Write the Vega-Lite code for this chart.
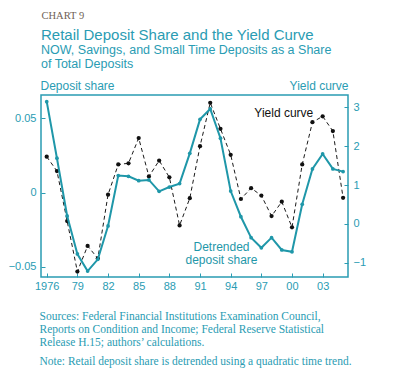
{
  "$schema": "https://vega.github.io/schema/vega-lite/v6.json",
  "autosize": "none",
  "width": 307,
  "height": 182,
  "padding": {"left": 41, "top": 95, "right": 45, "bottom": 103},
  "background": "white",
  "config": {
    "view": {"stroke": "#2a9cb3", "strokeWidth": 1.5},
    "axis": {"labelFont": "Liberation Sans", "labelFontSize": 11, "labelColor": "#2a9cb3", "tickColor": "#2a9cb3", "domain": false, "grid": false, "titleFont": "Liberation Sans", "titleFontWeight": "normal", "titleColor": "#2a9cb3"}
  },
  "title": {
    "text": "Retail Deposit Share and the Yield Curve",
    "subtitle": ["NOW, Savings, and Small Time Deposits as a Share", "of Total Deposits"],
    "anchor": "start",
    "frame": "group",
    "font": "Liberation Sans",
    "fontSize": 15,
    "fontWeight": "normal",
    "color": "#2a9cb3",
    "subtitleFont": "Liberation Sans",
    "subtitleFontSize": 12.5,
    "subtitleColor": "#2a9cb3",
    "subtitleLineHeight": 14,
    "subtitlePadding": 1,
    "offset": -60
  },
  "datasets": {
    "series": [
      {"year": 1976, "deposit": 0.0613, "yield": 1.73},
      {"year": 1977, "deposit": 0.0232, "yield": 1.36},
      {"year": 1978, "deposit": -0.0157, "yield": 0.07},
      {"year": 1979, "deposit": -0.0413, "yield": -1.23},
      {"year": 1980, "deposit": -0.0528, "yield": -0.57},
      {"year": 1981, "deposit": -0.0449, "yield": -0.89},
      {"year": 1982, "deposit": -0.0224, "yield": 0.75},
      {"year": 1983, "deposit": 0.0115, "yield": 1.53},
      {"year": 1984, "deposit": 0.0110, "yield": 1.56},
      {"year": 1985, "deposit": 0.0081, "yield": 2.21},
      {"year": 1986, "deposit": 0.0086, "yield": 1.22},
      {"year": 1987, "deposit": 0.0009, "yield": 1.63},
      {"year": 1988, "deposit": 0.0038, "yield": 1.20},
      {"year": 1989, "deposit": 0.0061, "yield": -0.04},
      {"year": 1990, "deposit": 0.0265, "yield": 0.66},
      {"year": 1991, "deposit": 0.0494, "yield": 2.00},
      {"year": 1992, "deposit": 0.0564, "yield": 3.12},
      {"year": 1993, "deposit": 0.0367, "yield": 2.45},
      {"year": 1994, "deposit": 0.0011, "yield": 1.78},
      {"year": 1995, "deposit": -0.0162, "yield": 0.64},
      {"year": 1996, "deposit": -0.0303, "yield": 0.92},
      {"year": 1997, "deposit": -0.0371, "yield": 0.73},
      {"year": 1998, "deposit": -0.0303, "yield": 0.20},
      {"year": 1999, "deposit": -0.0386, "yield": 0.57},
      {"year": 2000, "deposit": -0.0398, "yield": -0.09},
      {"year": 2001, "deposit": -0.0078, "yield": 1.53},
      {"year": 2002, "deposit": 0.0160, "yield": 2.62},
      {"year": 2003, "deposit": 0.0261, "yield": 2.77},
      {"year": 2004, "deposit": 0.0160, "yield": 2.39},
      {"year": 2005, "deposit": 0.0142, "yield": 0.67}
    ],
    "labels": [
      {"year": 1999.2, "value": 0.0539, "label": "Yield curve", "series": "yield"},
      {"year": 1993.1, "value": -0.0364, "label": "Detrended", "series": "deposit"},
      {"year": 1993.1, "value": -0.0454, "label": "deposit share", "series": "deposit"}
    ]
  },
  "resolve": {"scale": {"y": "independent"}, "axis": {"x": "independent", "y": "independent"}},
  "layer": [
    {
      "data": {"name": "series"},
      "mark": {"type": "line", "color": "#1a1a1a", "strokeWidth": 1, "strokeDash": [4, 3], "point": {"filled": true, "size": 18, "color": "#111111"}},
      "encoding": {
        "x": {"field": "year", "type": "quantitative", "scale": {"domain": [1975.44, 2005.48], "nice": false, "zero": false},
          "axis": {"orient": "top", "labels": false, "ticks": false, "title": "CHART 9", "titleFont": "Liberation Serif", "titleFontSize": 10.5, "titleColor": "#6f5f55", "titleAlign": "left", "titleBaseline": "alphabetic", "titleX": 0, "titleY": -76.5, "titleAnchor": "start"}},
        "y": {"field": "yield", "type": "quantitative", "scale": {"domain": [-1.37, 3.32], "nice": false, "zero": false},
          "axis": {"orient": "right", "values": [-1, 0, 1, 2, 3], "tickSize": -4, "labelPadding": 9, "title": "Yield curve", "titleAngle": 0, "titleAlign": "right", "titleBaseline": "alphabetic", "titleX": 0, "titleY": -6, "titleFontSize": 12}}
      }
    },
    {
      "data": {"name": "series"},
      "mark": {"type": "line", "color": "#1f97a9", "strokeWidth": 2, "point": {"filled": true, "size": 14, "color": "#1f97a9"}},
      "encoding": {
        "x": {"field": "year", "type": "quantitative", "scale": {"domain": [1975.44, 2005.48], "nice": false, "zero": false},
          "axis": {"orient": "bottom", "values": [1976, 1979, 1982, 1985, 1988, 1991, 1994, 1997, 2000, 2003], "labelExpr": "datum.value == 1976 ? '1976' : substring(toString(datum.value), 2)", "tickSize": -4, "labelPadding": 7,
            "title": ["Sources: Federal Financial Institutions Examination Council,", "Reports on Condition and Income; Federal Reserve Statistical", "Release H.15; authors’ calculations."],
            "titleFont": "Liberation Serif", "titleFontSize": 11.5, "titleLineHeight": 13.3, "titleAlign": "left", "titleBaseline": "alphabetic", "titleAnchor": "start", "titleX": -2, "titleY": 42}},
        "y": {"field": "deposit", "type": "quantitative", "scale": {"domain": [-0.0568, 0.0658], "nice": false, "zero": false},
          "axis": {"orient": "left", "values": [-0.05, 0, 0.05], "labelExpr": "datum.value == 0 ? '0' : format(datum.value, '.2f')", "tickSize": -4, "labelPadding": 9, "title": "Deposit share", "titleAngle": 0, "titleAlign": "left", "titleBaseline": "alphabetic", "titleX": -1, "titleY": -6, "titleFontSize": 12}}
      }
    },
    {
      "data": {"name": "labels"},
      "mark": {"type": "text", "font": "Liberation Sans", "fontSize": 12, "align": "center", "baseline": "middle"},
      "encoding": {
        "x": {"field": "year", "type": "quantitative", "scale": {"domain": [1975.44, 2005.48], "nice": false, "zero": false},
          "axis": {"orient": "bottom", "labels": false, "ticks": false, "title": "Note: Retail deposit share is detrended using a quadratic time trend.", "titleFont": "Liberation Serif", "titleFontSize": 11.5, "titleAlign": "left", "titleBaseline": "alphabetic", "titleAnchor": "start", "titleX": -2, "titleY": 87}},
        "y": {"field": "value", "type": "quantitative", "scale": {"domain": [-0.0568, 0.0658], "nice": false, "zero": false}, "axis": null},
        "text": {"field": "label"},
        "color": {"field": "series", "type": "nominal", "scale": {"domain": ["deposit", "yield"], "range": ["#1f97a9", "#111111"]}, "legend": null}
      }
    }
  ]
}
